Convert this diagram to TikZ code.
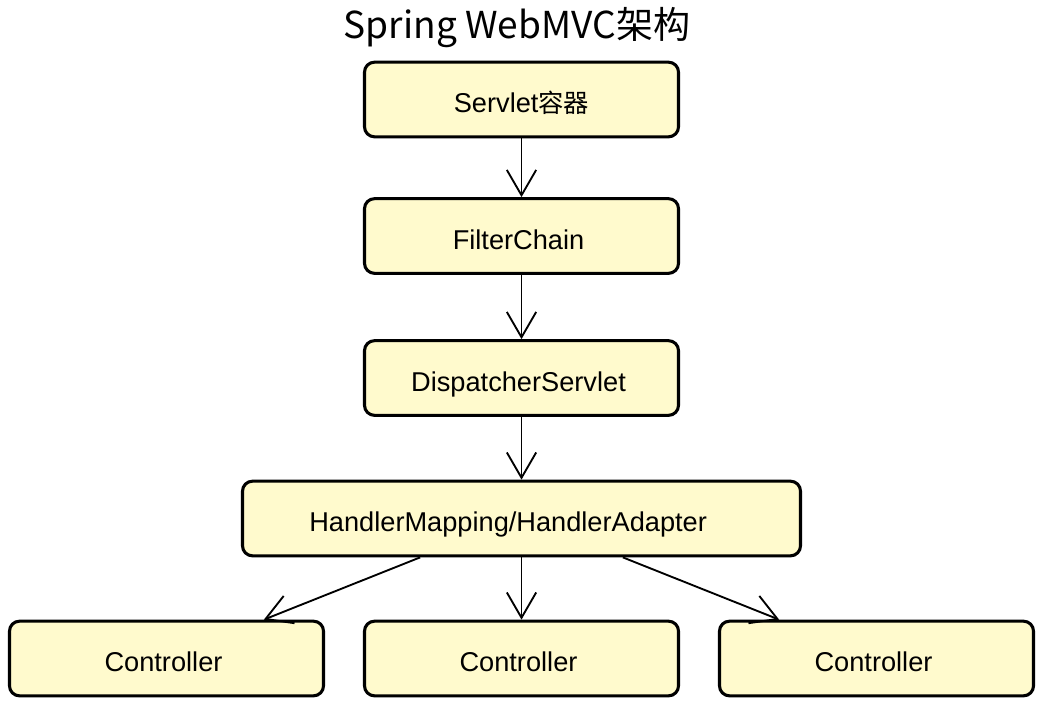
\documentclass[tikz,border=0pt]{standalone}
\usepackage{fontspec}
\setmainfont{Liberation Sans}
\newfontfamily\cjk{Noto Sans CJK SC}
\usetikzlibrary{arrows.meta}
\definecolor{boxfill}{HTML}{FFFACD}
\tikzset{
  box/.style={draw=black, line width=2.3pt, rounded corners=7.5pt, fill=boxfill,
    minimum height=56pt, inner sep=0pt, text height=20pt, text depth=0pt,
    font=\fontsize{20.4}{24}\selectfont},
  stdbox/.style={box, minimum width=235.5pt},
  widebox/.style={box, minimum width=418.5pt},
  link/.style={line width=1.4pt, -{Straight Barb[length=19pt,width=22pt,line width=1.4pt]}},
}
\begin{document}
\begin{tikzpicture}[x=0.75pt,y=-0.75pt]
\useasboundingbox (0,0) rectangle (1044,704);
\node[font=\fontsize{27.8}{32}\selectfont\cjk] (title) at (517,28) {Spring WebMVC架构};
\node[stdbox] (sc) at (521.5,99.5) {Servlet{\cjk\fontsize{19}{24}\selectfont 容器}};
\node[stdbox] (fc) at (521.5,236) {FilterChain\kern4.5pt};
\node[stdbox] (ds) at (521.5,378) {DispatcherServlet\kern4.5pt};
\node[widebox] (hm) at (521.5,518.5) {HandlerMapping/HandlerAdapter\kern20pt};
\node[stdbox] (c1) at (166.5,658.5) {Controller\kern4.5pt};
\node[stdbox] (c2) at (521.5,658.5) {Controller\kern4.5pt};
\node[stdbox] (c3) at (876.5,658.5) {Controller\kern4.5pt};
\draw[link] (sc.south) -- (fc.north);
\draw[link] (fc.south) -- (ds.north);
\draw[link] (ds.south) -- (hm.north);
\draw[link] ([xshift=-76pt]hm.south) -- ([xshift=73pt]c1.north);
\draw[link] (hm.south) -- (c2.north);
\draw[link] ([xshift=76pt]hm.south) -- ([xshift=-73pt]c3.north);
\end{tikzpicture}
\end{document}
